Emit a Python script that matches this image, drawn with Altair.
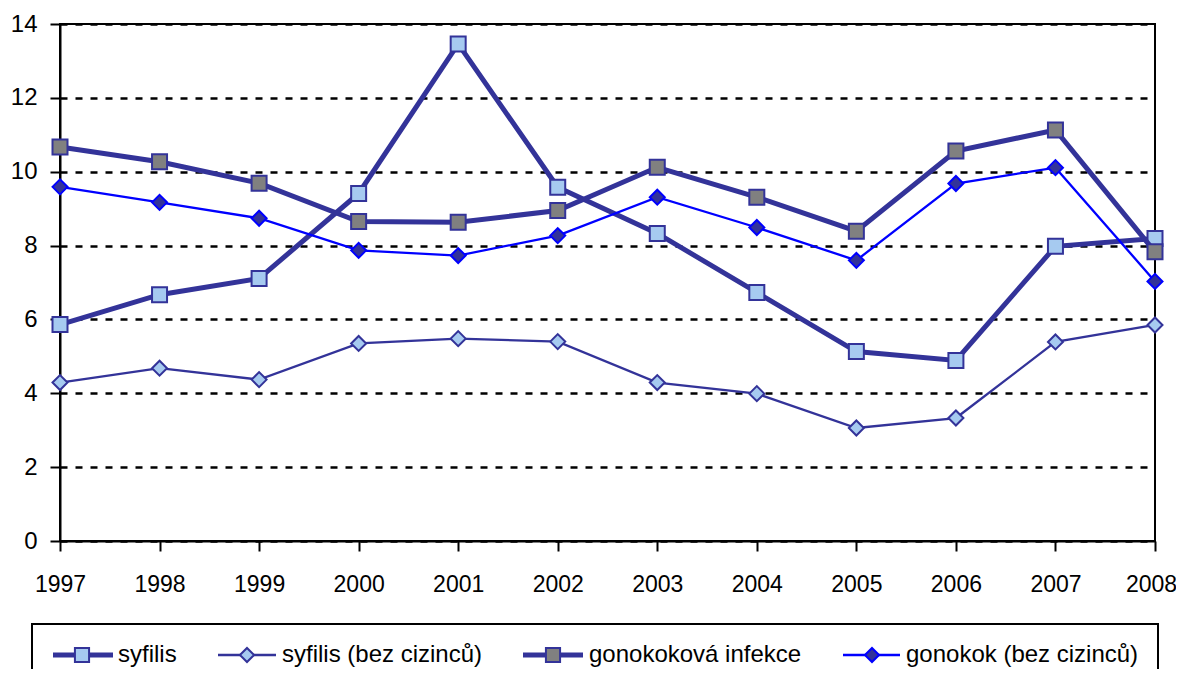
import altair as alt
import pandas as pd

years = [1997, 1998, 1999, 2000, 2001, 2002, 2003, 2004, 2005, 2006, 2007, 2008]
series_names = ["syfilis", "syfilis (bez cizinců)", "gonokoková infekce", "gonokok (bez cizinců)"]

syfilis = [5.86, 6.67, 7.11, 9.41, 13.46, 9.58, 8.33, 6.73, 5.13, 4.89, 7.98, 8.19]
syfilis_bez = [4.29, 4.68, 4.37, 5.35, 5.48, 5.40, 4.29, 3.99, 3.06, 3.33, 5.39, 5.85]
gonokokova = [10.67, 10.27, 9.69, 8.65, 8.63, 8.95, 10.12, 9.31, 8.39, 10.56, 11.13, 7.83]
gonokok_bez = [9.59, 9.17, 8.74, 7.87, 7.73, 8.27, 9.31, 8.49, 7.60, 9.68, 10.11, 7.03]

y_ticks = [0, 2, 4, 6, 8, 10, 12, 14]

values = [syfilis, syfilis_bez, gonokokova, gonokok_bez]

NAVY = "#333399"
LIGHT = "#A6CAF0"
GRAY = "#808080"
BLUE = "#0000FF"
FONT = "Liberation Sans"

styles = [
    dict(line=NAVY, lw=5, shape="square", fill=LIGHT, stroke=NAVY, size=225),
    dict(line=NAVY, lw=2.3, shape="diamond", fill=LIGHT, stroke=NAVY, size=225),
    dict(line=NAVY, lw=5, shape="square", fill=GRAY, stroke=NAVY, size=225),
    dict(line=BLUE, lw=2.3, shape="diamond", fill=NAVY, stroke=BLUE, size=225),
]

W, H = 1095, 517

xscale = alt.Scale(domain=[1997, 2008], nice=False, zero=False)
yscale = alt.Scale(domain=[0, 14], nice=False)

common = dict(title=None, labelColor="black", domainColor="black", domainWidth=2,
              tickColor="black", tickWidth=2, tickSize=10, labelFont=FONT,
              labelFlush=False, labelOverlap=False)
xaxis = alt.Axis(values=years, format="d", grid=False, labelFontSize=23,
                 labelPadding=22, labelOffset=alt.ExprRef("datum.value == 2008 ? -4 : 0"),
                 **common)
yaxis = alt.Axis(values=y_ticks, grid=True, labelFontSize=24, labelPadding=13,
                 gridColor="black", gridDash=[7, 8], gridWidth=2.5, gridOpacity=1,
                 **common)

layers = []
for name, vals, st in zip(series_names, values, styles):
    df = pd.DataFrame({"rok": years, "hodnota": vals, "serie": name})
    base = alt.Chart(df).encode(
        x=alt.X("rok:Q", scale=xscale, axis=xaxis),
        y=alt.Y("hodnota:Q", scale=yscale, axis=yaxis),
    )
    layers.append(base.mark_line(color=st["line"], strokeWidth=st["lw"]))
    layers.append(base.mark_point(shape=st["shape"], filled=True, fill=st["fill"],
                                  stroke=st["stroke"], strokeWidth=2, size=st["size"],
                                  opacity=1))

# legend (drawn manually below the plot)
legend_line_x = [(-7, 53), (158, 216), (463, 523), (783, 840)]
legend_marker_x = [22, 187, 493, 812]
legend_text_x = [58, 222, 529, 846]
legend_y = 631

leg_df = pd.DataFrame({"serie": series_names})
layers.append(
    alt.Chart(pd.DataFrame({"k": [0]})).mark_rect(fill=None, stroke="black", strokeWidth=2).encode(
        x=alt.value(-28), x2=alt.value(1098), y=alt.value(600), y2=alt.value(700)
    )
)
for i, (name, st) in enumerate(zip(series_names, styles)):
    d = leg_df.iloc[[i]]
    layers.append(
        alt.Chart(d).mark_rule(color=st["line"], strokeWidth=st["lw"]).encode(
            x=alt.value(legend_line_x[i][0]), x2=alt.value(legend_line_x[i][1]),
            y=alt.value(legend_y)
        )
    )
    layers.append(
        alt.Chart(d).mark_point(shape=st["shape"], filled=True, fill=st["fill"],
                                stroke=st["stroke"], strokeWidth=2, size=200, opacity=1).encode(
            x=alt.value(legend_marker_x[i]), y=alt.value(legend_y)
        )
    )
    layers.append(
        alt.Chart(d).mark_text(align="left", baseline="middle", font=FONT, fontSize=24,
                               color="black").encode(
            x=alt.value(legend_text_x[i]), y=alt.value(legend_y), text="serie:N"
        )
    )

chart = alt.layer(*layers).properties(
    width=W, height=H,
    background="white",
    autosize=alt.AutoSizeParams(type="none"),
    padding={"left": 52, "top": 16, "right": 21, "bottom": 128},
).configure_view(
    stroke="black", strokeWidth=2
)

chart.save("out.html", embed_options={"renderer": "svg", "actions": False})
